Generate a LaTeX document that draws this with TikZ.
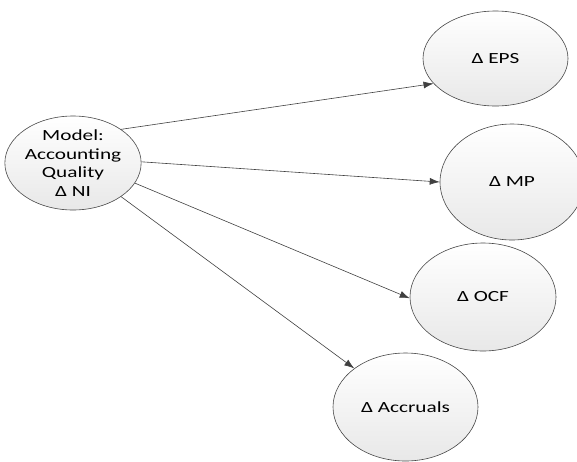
\documentclass[tikz,border=0pt]{standalone}
\usepackage{fontspec}
\setmainfont{Carlito}
\usepackage{graphicx}
\usetikzlibrary{shapes.geometric,arrows.meta}
\newcommand\wtxt[1]{\scalebox{1.37}[1]{#1}}
\begin{document}
\begin{tikzpicture}[x=1pt,y=-1pt,
  oval/.style={ellipse, draw=black!72, line width=0.6pt, top color=white, bottom color=black!9,
    inner sep=0pt, align=center, font=\fontsize{15.5}{18.5}\selectfont},
  link/.style={draw=black!75, line width=0.6pt, -{Latex[length=10pt,width=7pt]}}]
\useasboundingbox (0,0) rectangle (577,461);
\node[oval, minimum width=130pt, minimum height=94pt] (m) at (73,163)
  {\wtxt{Model:}\\\wtxt{Accounting}\\\wtxt{Quality}\\\wtxt{Δ NI}};
\node[oval, minimum width=145pt, minimum height=95pt] (eps) at (495.5,58.5) {\wtxt{Δ EPS}};
\node[oval, minimum width=144pt, minimum height=116pt] (mp) at (512,182) {\wtxt{Δ MP}};
\node[oval, minimum width=146pt, minimum height=108pt] (ocf) at (483,297) {\wtxt{Δ OCF}};
\node[oval, minimum width=145pt, minimum height=108pt] (acc) at (405.5,407) {\wtxt{Δ Accruals}};
\draw[link] (m.35) -- (eps.202);
\draw[link] (m.1) -- (mp.180);
\draw[link] (m.-18) -- (ocf.181);
\draw[link] (m.-35) -- (acc.143);
\end{tikzpicture}
\end{document}
